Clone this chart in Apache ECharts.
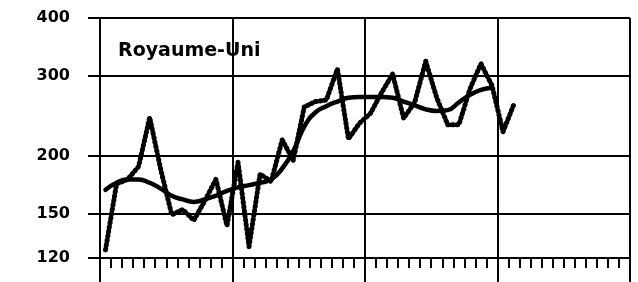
<!DOCTYPE html>
<html>
<head>
<meta charset="utf-8">
<style>html,body{margin:0;padding:0;background:#fff;}#c{width:638px;height:282px;}</style>
<script src="https://cdn.jsdelivr.net/npm/echarts@6/dist/echarts.min.js"></script>
</head>
<body>
<div id="c"></div>
<script>
// 48 monthly categories (4 years)
var months = [];
for (var i = 0; i < 48; i++) { months.push('M' + (i + 1)); }
var yTicks = [120, 150, 200, 300, 400];
var titleText = 'Royaume-Uni';
// raw monthly series (jagged, dotted)
var rawValues = [125, 174, 178, 190, 243, 187, 149, 153, 145, 160, 178, 141, 194, 127, 183, 176,
                 217, 196, 256, 263, 265, 310, 218, 236, 248, 275, 302, 242, 262, 322, 268, 234,
                 234, 280, 318, 285, 226, 260];
// trend series (smooth)
var trendValues = [169, 175, 178, 178, 175, 170, 164, 161, 159, 161, 164, 168, 171, 173, 175, 178,
                   188, 205, 232, 249, 257, 263, 268, 269, 269, 269, 268, 263, 258, 253, 251, 252,
                   262, 272, 279, 282];

var chart = echarts.init(document.getElementById('c'), null, {renderer: 'canvas'});
var FONT = 'DejaVu Sans';
chart.setOption({
  animation: false,
  backgroundColor: '#fff',
  grid: {left: 100, right: 8, top: 18, bottom: 24, containLabel: false},
  graphic: [{
    type: 'text', left: 118, top: 42,
    style: {text: titleText, font: 'bold 19px "DejaVu Sans"', fill: '#000'}
  }],
  xAxis: [{
    type: 'category', data: months, boundaryGap: true,
    axisLine: {show: true, lineStyle: {color: '#000', width: 2}},
    axisTick: {show: true, interval: 0, length: 10, lineStyle: {color: '#000', width: 2}},
    axisLabel: {show: false},
    splitLine: {show: true, interval: 11, lineStyle: {color: '#000', width: 2}}
  }, {
    type: 'category', data: months, boundaryGap: true, position: 'bottom',
    axisLine: {show: false},
    axisTick: {show: true, interval: 11, length: 24, lineStyle: {color: '#000', width: 2}},
    axisLabel: {show: false},
    splitLine: {show: false}
  }],
  yAxis: {
    type: 'log', min: 120, max: 400, logBase: 10,
    axisLine: {show: true, lineStyle: {color: '#000', width: 2}},
    axisTick: {show: true, customValues: yTicks, length: 12, lineStyle: {color: '#000', width: 2}},
    axisLabel: {show: true, customValues: yTicks, margin: 30, color: '#000',
                fontFamily: FONT, fontWeight: 'bold', fontSize: 16},
    splitLine: {show: true, lineStyle: {color: '#000', width: 2}}
  },
  series: [{
    type: 'line', data: rawValues, symbol: 'none', smooth: false,
    lineStyle: {color: '#000', width: 5, type: [1, 3.5], cap: 'round', join: 'round'},
    z: 3
  }, {
    type: 'line', data: trendValues, symbol: 'none', smooth: true,
    lineStyle: {color: '#000', width: 4.5, cap: 'round'},
    z: 4
  }]
});
</script>
</body>
</html>
